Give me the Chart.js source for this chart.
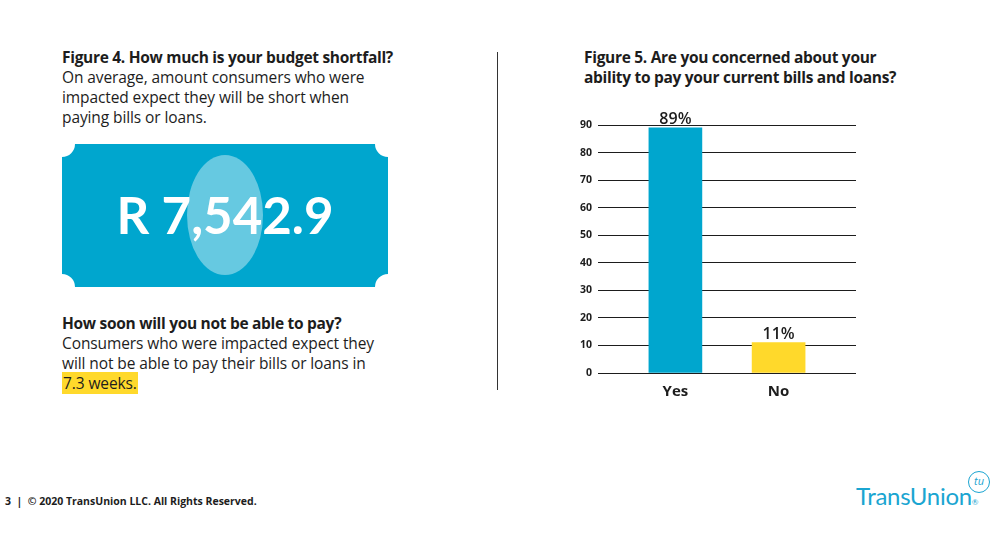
<!DOCTYPE html>
<html>
<head>
<meta charset="utf-8">
<script src="https://cdn.jsdelivr.net/npm/chart.js@4.4.0/dist/chart.umd.min.js"></script>
<style>
  body { margin: 0; width: 1003px; height: 535px; background: #fff; position: relative; overflow: hidden; font-family: "Open Sans", Lato, sans-serif; color: #1d1d1d; }
  .txt { position: absolute; font-size: 15.5px; line-height: 20px; letter-spacing: -0.1px; }
  .txt b { font-weight: 700; letter-spacing: -0.3px; }
  .hl { background: #ffd92b; padding: 0 1px; }
  #divider { position: absolute; left: 497px; top: 52px; width: 1px; height: 338px; background: #333; }
  #banner { position: absolute; left: 62px; top: 144px; }
  #footer { position: absolute; left: 5px; top: 494px; font-size: 10.5px; font-weight: 700; }
  #logo { position: absolute; left: 856px; top: 481px; font-family: Lato, sans-serif; font-size: 24px; color: #1ba5d1; letter-spacing: -0.3px; }
  #tu { position: absolute; left: 968px; top: 471px; width: 20px; height: 20px; border: 1.5px solid #1ba5d1; border-radius: 50%; color: #1ba5d1; font-size: 11px; line-height: 18px; text-align: center; font-style: italic; }
  #wrap { position: absolute; left: 560px; top: 100px; width: 300px; height: 303px; }
</style>
</head>
<body>
<div class="txt" style="left:62px; top:47px; width:380px;">
  <b>Figure 4. How much is your budget shortfall?</b><br>
  On average, amount consumers who were<br>impacted expect they will be short when<br>paying bills or loans.
</div>

<svg id="banner" width="326" height="143" viewBox="0 0 326 143">
  <path d="M13 0 H313 A13 13 0 0 0 326 13 V130 A13 13 0 0 0 313 143 H13 A13 13 0 0 0 0 130 V13 A13 13 0 0 0 13 0 Z" fill="#00a6ce"/>
  <ellipse cx="163" cy="71" rx="38" ry="60" fill="#66c9e1"/>
  <text x="163" y="90" text-anchor="middle" fill="#fff" font-family="Lato, sans-serif" font-weight="700" font-size="51">R 7,542.9</text>
</svg>

<div class="txt" style="left:62px; top:313px; width:380px;">
  <b>How soon will you not be able to pay?</b><br>
  Consumers who were impacted expect they<br>will not be able to pay their bills or loans in<br><span class="hl">7.3 weeks.</span>
</div>

<div id="divider"></div>

<div class="txt" style="left:584px; top:47px; width:380px;">
  <b>Figure 5. Are you concerned about your<br>ability to pay your current bills and loans?</b>
</div>

<div id="wrap"><canvas id="chart"></canvas></div>

<div id="footer">3&nbsp;&nbsp;|&nbsp;&nbsp;© 2020 TransUnion LLC. All Rights Reserved.</div>
<div id="logo">TransUnion<span style="font-size:8px">®</span></div>
<div id="tu">tu</div>

<script>
const categories = ['Yes', 'No'];
const values = [89, 11];
const barColors = ['#00a6ce', '#ffd92b'];
const yTicks = [0, 10, 20, 30, 40, 50, 60, 70, 80, 90];

// value labels above bars
const valueLabels = {
  id: 'valueLabels',
  afterDatasetsDraw(chart) {
    const ctx = chart.ctx;
    const meta = chart.getDatasetMeta(0);
    ctx.save();
    ctx.font = '600 16px "Open Sans", sans-serif';
    ctx.fillStyle = '#1d1d1d';
    ctx.textAlign = 'center';
    ctx.textBaseline = 'alphabetic';
    meta.data.forEach((bar, i) => {
      ctx.fillText(values[i] + '%', bar.x, bar.y - 4);
    });
    ctx.restore();
  }
};

new Chart(document.getElementById('chart'), {
  type: 'bar',
  data: {
    datasets: [{
      data: categories.map((c, i) => ({ x: i, y: values[i] })),
      backgroundColor: barColors,
      borderWidth: 0,
      barThickness: 53
    }]
  },
  options: {
    responsive: true,
    maintainAspectRatio: false,
    animation: false,
    layout: { padding: { top: 25, right: 4, bottom: 0, left: 0 } },
    plugins: { legend: { display: false }, tooltip: { enabled: false } },
    scales: {
      x: {
        type: 'linear',
        offset: false,
        min: -0.75, max: 1.75,
        grid: { display: false },
        border: { display: false },
        afterBuildTicks: axis => { axis.ticks = categories.map((c, i) => ({ value: i })); },
        afterFit: axis => { axis.height = 30; },
        ticks: {
          padding: 2,
          autoSkip: false,
          maxRotation: 0,
          color: '#1d1d1d',
          font: { family: '"Open Sans", sans-serif', size: 15, weight: '700' },
          callback: v => categories[v]
        }
      },
      y: {
        min: 0, max: 90,
        afterBuildTicks: axis => { axis.ticks = yTicks.map(v => ({ value: v })); },
        afterFit: axis => { axis.width = 38; },
        grid: { color: '#1d1d1d', lineWidth: 1, drawTicks: false },
        border: { display: false },
        ticks: {
          padding: 6,
          color: '#1d1d1d',
          font: { family: '"Open Sans", sans-serif', size: 10.5, weight: '700' }
        }
      }
    }
  },
  plugins: [valueLabels]
});
</script>
</body>
</html>
